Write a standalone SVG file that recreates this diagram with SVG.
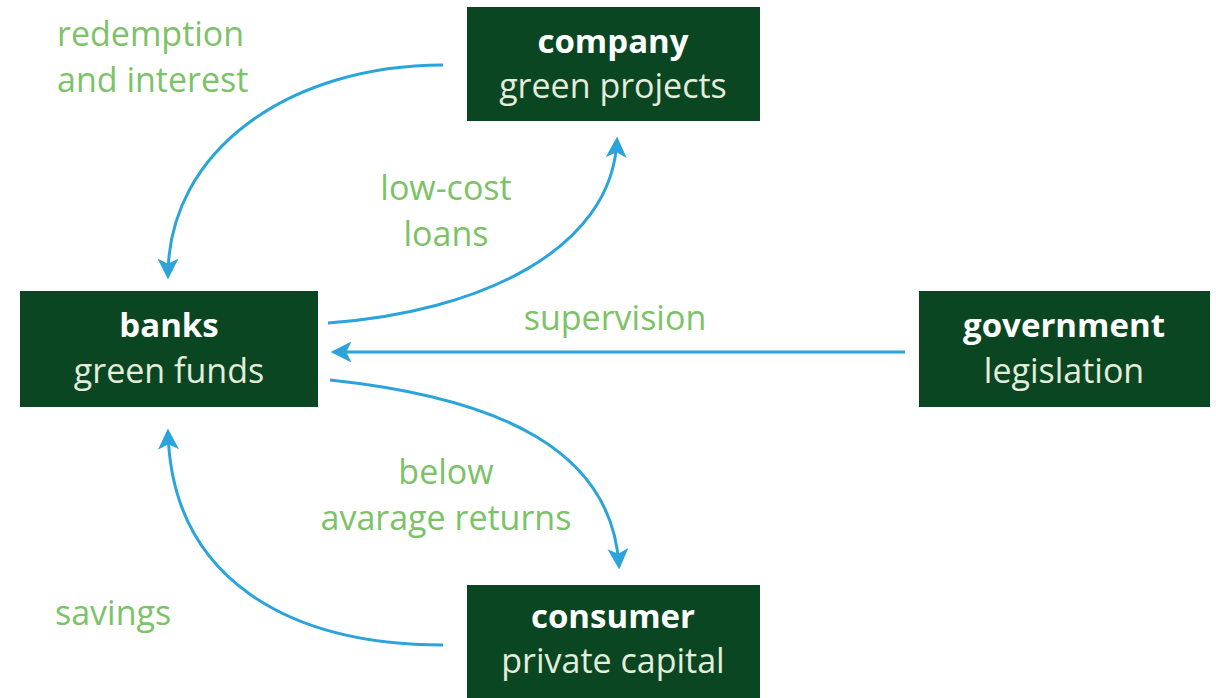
<svg xmlns="http://www.w3.org/2000/svg" width="1216" height="698" viewBox="0 0 1216 698">
<style>
.box{fill:#0a4622}
.t{font-family:"Open Sans",sans-serif;font-size:33px;font-weight:bold;fill:#ffffff;text-anchor:middle}
.s{font-family:"Open Sans",sans-serif;font-size:34px;fill:#e4eddc;text-anchor:middle}
.l{font-family:"Open Sans",sans-serif;font-size:34px;fill:#7cc267}
.c{fill:none;stroke:#2ba4dc;stroke-width:3}
</style>
<defs>
<marker id="ah" viewBox="0 0 12 12" refX="10" refY="6" markerWidth="7" markerHeight="7" orient="auto" markerUnits="strokeWidth">
<path d="M0,0 L12,6 L0,12 L3,6 Z" fill="#2ba4dc"/>
</marker>
</defs>
<rect width="1216" height="698" fill="#ffffff"/>
<g id="company"><rect class="box" x="467" y="7" width="293" height="114"/><text class="t" x="613" y="53">company</text><text class="s" x="613" y="98">green projects</text></g>
<g id="banks"><rect class="box" x="20" y="291" width="298" height="116"/><text class="t" x="169" y="337">banks</text><text class="s" x="169" y="383">green funds</text></g>
<g id="government"><rect class="box" x="919" y="291" width="291" height="116"/><text class="t" x="1064" y="337">government</text><text class="s" x="1064" y="383">legislation</text></g>
<g id="consumer"><rect class="box" x="467" y="585" width="293" height="120"/><text class="t" x="613" y="628">consumer</text><text class="s" x="613" y="673">private capital</text></g>
<g id="connectors">
<path class="c" d="M443,65 C290,65 168,150 168,276" marker-end="url(#ah)"/>
<path class="c" d="M328,323 C480,312 612,250 617,140" marker-end="url(#ah)"/>
<path class="c" d="M905,352 L334,352" marker-end="url(#ah)"/>
<path class="c" d="M330,380 C500,398 612,450 619,566" marker-end="url(#ah)"/>
<path class="c" d="M443,645 C290,645 172,580 168,432" marker-end="url(#ah)"/>
</g>
<g id="labels">
<text class="l" x="57" y="46">redemption</text>
<text class="l" x="57" y="92">and interest</text>
<text class="l" x="446" y="200" text-anchor="middle">low-cost</text>
<text class="l" x="446" y="246" text-anchor="middle">loans</text>
<text class="l" x="615" y="330" text-anchor="middle">supervision</text>
<text class="l" x="446" y="484" text-anchor="middle">below</text>
<text class="l" x="446" y="530" text-anchor="middle">avarage returns</text>
<text class="l" x="55" y="625">savings</text>
</g>
</svg>
